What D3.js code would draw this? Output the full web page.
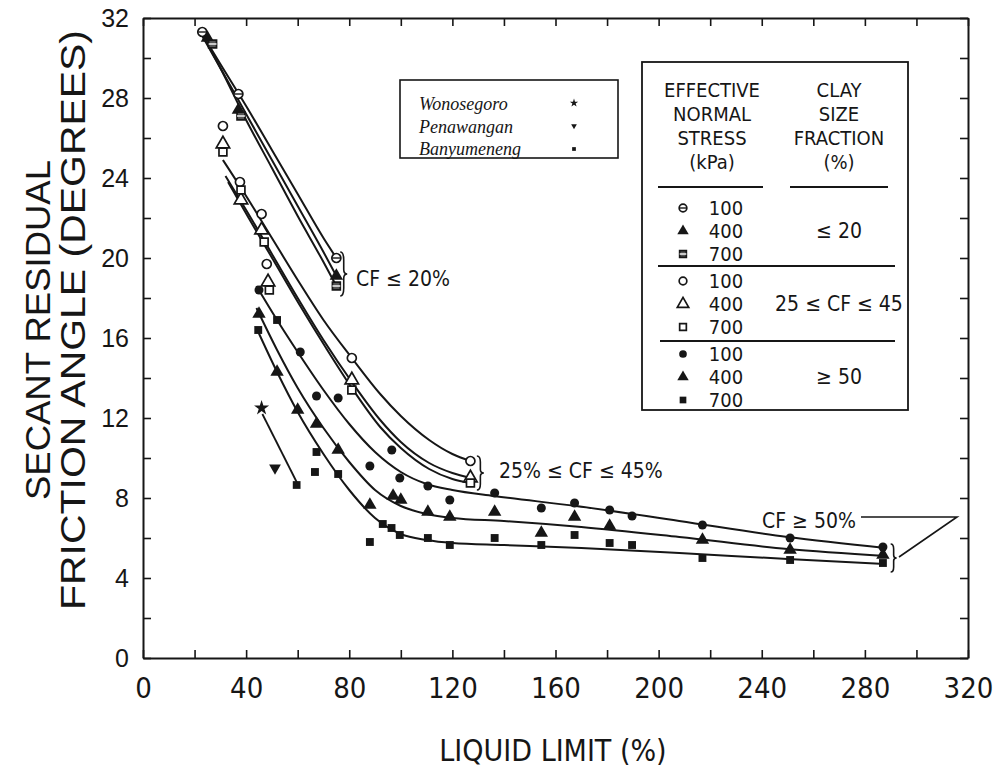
<!DOCTYPE html>
<html>
<head>
<meta charset="utf-8">
<script src="https://cdn.jsdelivr.net/npm/d3@7"></script>
<style>
  body { margin: 0; background: #fff; }
  svg { display: block; }
</style>
</head>
<body>
<svg id="chart" width="995" height="771"></svg>
<script>
// ---- data: [liquid limit %, secant residual friction angle deg] ----

// clay fraction <= 20 %
var cf20_100 = [[23, 31.3], [37, 28.2], [75, 20.0]];
var cf20_400 = [[25, 31.0], [37, 27.4], [75, 19.1]];
var cf20_700 = [[27, 30.7], [38, 27.1], [75, 18.6]];

// 25 <= clay fraction <= 45 %
var cf45_100 = [[31, 26.6], [37.6, 23.8], [46, 22.2], [48, 19.7], [81, 15.0], [127, 9.85]];
var cf45_400 = [[31, 25.7], [38, 22.9], [46, 21.4], [48.5, 18.8], [81, 13.9], [127, 9.0]];
var cf45_700 = [[31, 25.3], [38, 23.4], [47, 20.8], [49, 18.4], [81, 13.4], [127, 8.75]];

// clay fraction >= 50 %
var cf50_100 = [[45, 18.4], [61, 15.3], [67.3, 13.1], [75.7, 13.0], [88, 9.6], [96.5, 10.4], [99.6, 9.0],
                [110.5, 8.6], [119, 7.9], [136.4, 8.25], [154.5, 7.5], [167.4, 7.75], [181, 7.4],
                [189.7, 7.1], [217, 6.65], [251, 6.0], [287, 5.55]];
var cf50_400 = [[45, 17.2], [52, 14.3], [60, 12.4], [67.3, 11.7], [75.7, 10.4], [88, 7.65], [97, 8.1],
                [100, 7.9], [110.5, 7.3], [119, 7.05], [136.4, 7.3], [154.5, 6.25], [167.4, 7.05],
                [181, 6.6], [217, 5.9], [251, 5.4], [287, 5.15]];
var cf50_700 = [[44.7, 16.4], [52, 16.9], [67.3, 10.3], [66.7, 9.3], [75.7, 9.2], [88, 5.8], [93, 6.7],
                [96.4, 6.5], [99.6, 6.15], [110.5, 6.0], [119, 5.65], [136.4, 6.0], [154.5, 5.65],
                [167.4, 6.15], [181, 5.75], [189.7, 5.65], [217, 5.0], [251, 4.9], [287, 4.75]];

// fitted trend curves drawn in the figure
var fit20 = [
  [[22, 31.4], [30, 29.7], [40, 27.6], [50, 25.4], [60, 23.2], [70, 21.0], [75, 20.0]],
  [[23, 31.1], [30, 29.5], [40, 27.2], [50, 24.9], [60, 22.6], [70, 20.3], [75, 19.1]],
  [[25, 30.7], [30, 29.5], [40, 26.9], [50, 24.5], [60, 22.1], [70, 19.8], [75, 18.6]]
];
var fit45 = [
  [[31, 24.9], [40, 23.1], [50, 21.0], [60, 18.9], [70, 16.9], [81, 15.0], [92, 13.2], [100, 12.1],
   [111, 10.9], [120, 10.2], [127, 9.85]],
  [[32, 24.1], [40, 22.4], [50, 20.2], [60, 18.0], [70, 15.9], [81, 13.8], [92, 11.9], [100, 10.8],
   [111, 9.75], [120, 9.25], [127, 9.0]],
  [[33, 23.8], [41, 22.0], [51, 19.8], [61, 17.6], [71, 15.5], [81, 13.5], [92, 11.55], [100, 10.5],
   [111, 9.45], [120, 8.95], [127, 8.75]]
];
var fit50 = [
  [[44, 18.6], [52, 16.9], [60, 15.3], [70, 13.4], [80, 11.7], [90, 10.3], [100, 9.3], [110, 8.7],
   [120, 8.4], [136, 8.1], [168, 7.6], [208, 6.85], [250, 6.05], [288, 5.5]],
  [[44, 17.5], [52, 15.4], [60, 13.5], [70, 11.5], [80, 9.8], [90, 8.4], [100, 7.6], [110, 7.2],
   [120, 7.0], [140, 6.85], [170, 6.55], [208, 6.05], [250, 5.45], [288, 5.1]],
  [[44, 16.5], [52, 14.3], [60, 12.3], [70, 10.2], [80, 8.4], [90, 7.0], [100, 6.2], [110, 5.9],
   [120, 5.75], [140, 5.65], [170, 5.5], [208, 5.25], [250, 4.95], [288, 4.7]]
];

// Indonesian sites added to the figure
var siteNames = ["Wonosegoro", "Penawangan", "Banyumeneng"];
var sitePoints = [[46, 12.5], [51.2, 9.5], [59.6, 8.65]];
var siteTrend = [[46.3, 12.2], [59.8, 8.75]];

// axes and legend text
var xTicks = d3.range(0, 321, 20);
var xLabels = [0, 40, 80, 120, 160, 200, 240, 280, 320];
var yTicks = d3.range(0, 33, 2);
var yLabels = [0, 4, 8, 12, 16, 20, 24, 28, 32];
var stressLevels = ["100", "400", "700"];
var clayGroups = ["\u2264 20", "25 \u2264 CF \u2264 45", "\u2265 50"];

// ---- drawing ----
var svg = d3.select("#chart");
var ink = "#161616";
var narrow = "'Liberation Sans Narrow', 'DejaVu Sans Condensed', sans-serif";
var plain = "'Liberation Sans', Arial, sans-serif";

var x = d3.scaleLinear().domain([0, 320]).range([143, 968]);
var y = d3.scaleLinear().domain([0, 32]).range([658, 18]);

svg.append("rect").attr("width", 995).attr("height", 771).attr("fill", "#fff");

function styleAxis(font, size) {
  return function(g) {
    g.select(".domain").attr("stroke", ink).attr("stroke-width", 2);
    g.selectAll(".tick line").attr("stroke", ink).attr("stroke-width", 1.6);
    g.selectAll(".tick text").attr("fill", ink).attr("font-family", font).attr("font-size", size);
  };
}

svg.append("g").attr("transform", "translate(0,658)")
  .call(d3.axisBottom(x).tickValues(xTicks).tickSize(-8).tickSizeOuter(0).tickPadding(19)
    .tickFormat(function(d) { return xLabels.indexOf(d) >= 0 ? d : ""; }))
  .call(styleAxis(narrow, 29));
svg.append("g").attr("transform", "translate(143,0)")
  .call(d3.axisLeft(y).tickValues(yTicks).tickSize(-8).tickSizeOuter(0).tickPadding(14)
    .tickFormat(function(d) { return yLabels.indexOf(d) >= 0 ? d : ""; }))
  .call(styleAxis(plain, 25));
svg.append("g").attr("transform", "translate(0,18)")
  .call(d3.axisTop(x).tickValues(xTicks).tickSize(-8).tickSizeOuter(0).tickFormat(""))
  .call(styleAxis(plain, 10));
svg.append("g").attr("transform", "translate(968,0)")
  .call(d3.axisRight(y).tickValues(yTicks).tickSize(-8).tickSizeOuter(0).tickFormat(""))
  .call(styleAxis(plain, 10));

// axis titles
svg.append("text").attr("transform", "translate(50,330) rotate(-90)")
  .attr("text-anchor", "middle").attr("font-family", plain)
  .attr("font-size", 35).attr("fill", ink)
  .attr("textLength", 340).attr("lengthAdjust", "spacingAndGlyphs")
  .text("SECANT RESIDUAL");
svg.append("text").attr("transform", "translate(85,320) rotate(-90)")
  .attr("text-anchor", "middle").attr("font-family", plain)
  .attr("font-size", 35).attr("fill", ink)
  .attr("textLength", 580).attr("lengthAdjust", "spacingAndGlyphs")
  .text("FRICTION ANGLE (DEGREES)");
svg.append("text").attr("x", 553).attr("y", 761).attr("text-anchor", "middle")
  .attr("font-family", narrow).attr("font-size", 30).attr("fill", ink)
  .text("LIQUID LIMIT (%)");

// trend curves
var line = d3.line().x(function(d) { return x(d[0]); }).y(function(d) { return y(d[1]); })
  .curve(d3.curveMonotoneX);
var curves = fit20.concat(fit45, fit50);
svg.append("g").selectAll("path").data(curves).enter().append("path")
  .attr("d", line).attr("fill", "none").attr("stroke", ink).attr("stroke-width", 2);
svg.append("path").attr("d", d3.line().x(function(d) { return x(d[0]); }).y(function(d) { return y(d[1]); })(siteTrend))
  .attr("fill", "none").attr("stroke", ink).attr("stroke-width", 1.8);

// markers
var shapeOf = { "100": d3.symbolCircle, "400": d3.symbolTriangle, "700": d3.symbolSquare };
function marker(g, stress, style, cx, cy, scale) {
  var k = scale || 1;
  var size = (stress === "400" ? 78 : stress === "700" ? 62 : 64) * k * k;
  var p = g.append("path").attr("transform", "translate(" + cx + "," + cy + ")")
    .attr("d", d3.symbol().type(shapeOf[stress]).size(size)());
  if (style === "solid") {
    p.attr("fill", ink);
  } else if (style === "open") {
    p.attr("fill", "#fff").attr("stroke", ink).attr("stroke-width", 1.7);
  } else {
    // half-filled marks of the <= 20 % group
    if (stress === "400") { p.attr("fill", ink); return; }
    p.attr("fill", stress === "700" ? "#555" : "#fff").attr("stroke", ink).attr("stroke-width", 1.7);
    var h = Math.sqrt(size) / 2;
    g.append("line").attr("x1", cx - h).attr("x2", cx + h).attr("y1", cy).attr("y2", cy)
      .attr("stroke", stress === "700" ? "#fff" : ink).attr("stroke-width", 1.4);
  }
}

var groups = [
  { pts: cf45_100, stress: "100", style: "open" },
  { pts: cf45_400, stress: "400", style: "open" },
  { pts: cf45_700, stress: "700", style: "open" },
  { pts: cf20_100, stress: "100", style: "half" },
  { pts: cf20_400, stress: "400", style: "half" },
  { pts: cf20_700, stress: "700", style: "half" },
  { pts: cf50_100, stress: "100", style: "solid" },
  { pts: cf50_400, stress: "400", style: "solid" },
  { pts: cf50_700, stress: "700", style: "solid" }
];
var markG = svg.append("g");
groups.forEach(function(gr) {
  gr.pts.forEach(function(d) { marker(markG, gr.stress, gr.style, x(d[0]), y(d[1])); });
});

// site points: star, down triangle, bar
var siteShapes = [d3.symbolStar, d3.symbolTriangle, d3.symbolSquare];
sitePoints.forEach(function(d, i) {
  markG.append("path")
    .attr("transform", "translate(" + x(d[0]) + "," + y(d[1]) + ")" + (i === 1 ? " rotate(180)" : ""))
    .attr("d", d3.symbol().type(siteShapes[i]).size(i === 0 ? 70 : 60)())
    .attr("fill", ink);
});

// braces and group annotations
function brace(x0, y0, y1, w) {
  var m = (y0 + y1) / 2, h = y1 - y0;
  return "M" + x0 + "," + y0 + " Q" + (x0 + w) + "," + y0 + " " + (x0 + w) + "," + (y0 + h * 0.18) +
    " L" + (x0 + w) + "," + (m - h * 0.1) + " Q" + (x0 + w) + "," + m + " " + (x0 + 2 * w) + "," + m +
    " Q" + (x0 + w) + "," + m + " " + (x0 + w) + "," + (m + h * 0.1) +
    " L" + (x0 + w) + "," + (y1 - h * 0.18) + " Q" + (x0 + w) + "," + y1 + " " + x0 + "," + y1;
}
var ann = svg.append("g").attr("fill", "none").attr("stroke", ink).attr("stroke-width", 1.6);
ann.append("path").attr("d", brace(x(76.5), y(20.3), y(18.1), 3.5));
ann.append("path").attr("d", brace(x(129.5), y(10.1), y(8.4), 3.5));
ann.append("path").attr("d", brace(x(290), y(5.7), y(4.3), 3));
ann.append("path").attr("d", "M861,517 L957,517 L899,557");

function note(tx, ty, s) {
  svg.append("text").attr("x", tx).attr("y", ty).attr("font-family", narrow)
    .attr("font-size", 21).attr("fill", ink).text(s);
}
note(356, 286, "CF \u2264 20%");
note(499, 478, "25% \u2264 CF \u2264 45%");
note(762, 528, "CF \u2265 50%");

// site legend
var lg1 = svg.append("g");
lg1.append("rect").attr("x", 400).attr("y", 80).attr("width", 218).attr("height", 78)
  .attr("fill", "#fff").attr("stroke", ink).attr("stroke-width", 1.6);
siteNames.forEach(function(n, i) {
  lg1.append("text").attr("x", 419).attr("y", 110 + i * 22.5)
    .attr("font-family", "'Liberation Serif', 'Times New Roman', serif").attr("font-style", "italic")
    .attr("font-size", 18).attr("fill", ink).text(n);
  lg1.append("path")
    .attr("transform", "translate(574," + (103 + i * 23) + ")" + (i === 1 ? " rotate(180)" : ""))
    .attr("d", d3.symbol().type(siteShapes[i]).size(i === 0 ? 22 : 14)())
    .attr("fill", ink);
});

// stress / clay fraction legend table
var lg2 = svg.append("g");
lg2.append("rect").attr("x", 642).attr("y", 62).attr("width", 266).attr("height", 348)
  .attr("fill", "#fff").attr("stroke", ink).attr("stroke-width", 1.8);
var headL = ["EFFECTIVE", "NORMAL", "STRESS", "(kPa)"];
var headR = ["CLAY", "SIZE", "FRACTION", "(%)"];
headL.forEach(function(t, i) {
  lg2.append("text").attr("x", 712).attr("y", 97 + i * 24).attr("text-anchor", "middle")
    .attr("font-family", narrow).attr("font-size", 20).attr("fill", ink).text(t);
});
headR.forEach(function(t, i) {
  lg2.append("text").attr("x", 839).attr("y", 97 + i * 24).attr("text-anchor", "middle")
    .attr("font-family", narrow).attr("font-size", 20).attr("fill", ink).text(t);
});
var rule = lg2.append("g").attr("stroke", ink).attr("stroke-width", 1.8);
rule.append("line").attr("x1", 658).attr("x2", 763).attr("y1", 187).attr("y2", 187);
rule.append("line").attr("x1", 790).attr("x2", 888).attr("y1", 187).attr("y2", 187);
rule.append("line").attr("x1", 658).attr("x2", 895).attr("y1", 266).attr("y2", 266);
rule.append("line").attr("x1", 660).attr("x2", 895).attr("y1", 341).attr("y2", 341);

var styles = ["half", "open", "solid"];
styles.forEach(function(st, gi) {
  var top = [208, 281, 354][gi];
  stressLevels.forEach(function(s, i) {
    var cy = top + i * 23;
    marker(lg2, s, st, 683, cy, 0.85);
    lg2.append("text").attr("x", 726).attr("y", cy + 7).attr("text-anchor", "middle")
      .attr("font-family", narrow).attr("font-size", 20).attr("fill", ink).text(s);
  });
  lg2.append("text").attr("x", 839).attr("y", top + 30).attr("text-anchor", "middle")
    .attr("font-family", narrow).attr("font-size", 21).attr("fill", ink).text(clayGroups[gi]);
});
</script>
</body>
</html>
